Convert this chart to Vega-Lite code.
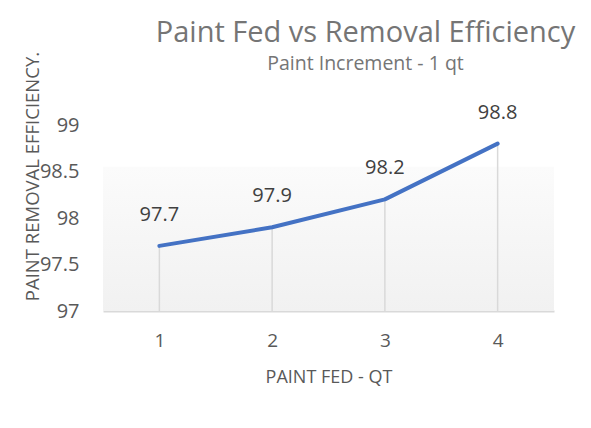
{
  "$schema": "https://vega.github.io/schema/vega-lite/v6.json",
  "width": 451,
  "height": 186,
  "autosize": {"type": "none"},
  "padding": {"left": 103, "top": 125, "right": 37, "bottom": 117},
  "background": "white",
  "config": {"view": {"stroke": null}, "font": "Open Sans"},
  "title": {
    "text": "Paint Fed vs Removal Efficiency",
    "subtitle": "Paint Increment - 1 qt",
    "anchor": "middle",
    "dx": 37,
    "offset": -22,
    "fontSize": 29,
    "fontWeight": "normal",
    "color": "#757575",
    "subtitleFontSize": 19.5,
    "subtitleColor": "#757575",
    "subtitlePadding": 7
  },
  "data": {
    "values": [
      {"qt": 1, "eff": 97.7},
      {"qt": 2, "eff": 97.9},
      {"qt": 3, "eff": 98.2},
      {"qt": 4, "eff": 98.8}
    ]
  },
  "encoding": {
    "x": {
      "field": "qt",
      "type": "ordinal",
      "scale": {"type": "point", "padding": 0.5},
      "axis": {
        "title": "PAINT FED - QT",
        "labelAngle": 0,
        "labelFontSize": 19,
        "labelColor": "#595959",
        "labelPadding": 20,
        "ticks": false,
        "domainColor": "#d9d9d9",
        "domainWidth": 2,
        "titleFontSize": 18,
        "titleFontWeight": "normal",
        "titleColor": "#595959",
        "titlePadding": 18
      }
    }
  },
  "layer": [
    {
      "data": {"values": [{}]},
      "mark": {
        "type": "rect",
        "fill": {
          "gradient": "linear",
          "x1": 0, "y1": 0, "x2": 0, "y2": 1,
          "stops": [
            {"offset": 0, "color": "#fbfbfb"},
            {"offset": 1, "color": "#f1f1f1"}
          ]
        }
      },
      "encoding": {
        "x": null,
        "y": {"datum": 98.55, "type": "quantitative", "scale": {"domain": [97, 99]}},
        "y2": {"datum": 97}
      }
    },
    {
      "mark": {"type": "rule", "color": "#d9d9d9", "strokeWidth": 1.5},
      "encoding": {
        "y": {"field": "eff", "type": "quantitative"},
        "y2": {"datum": 97}
      }
    },
    {
      "mark": {"type": "line", "color": "#4472c4", "strokeWidth": 4, "strokeCap": "round", "strokeJoin": "round"},
      "encoding": {
        "y": {
          "field": "eff",
          "type": "quantitative",
          "scale": {"domain": [97, 99]},
          "axis": {
            "title": "PAINT REMOVAL EFFICIENCY.",
            "values": [97, 97.5, 98, 98.5, 99],
            "format": "~g",
            "grid": false,
            "domain": false,
            "ticks": false,
            "labelFontSize": 20,
            "labelColor": "#595959",
            "labelPadding": 24,
            "titleFontSize": 18.5,
            "titleFontWeight": "normal",
            "titleColor": "#595959",
            "titleX": -71,
            "titleY": 51,
            "titleAngle": -90,
            "titleAlign": "center",
            "titleBaseline": "middle"
          }
        }
      }
    },
    {
      "mark": {"type": "text", "dy": -31, "fontSize": 20, "color": "#404040"},
      "encoding": {
        "y": {"field": "eff", "type": "quantitative"},
        "text": {"field": "eff", "type": "quantitative", "format": ".1f"}
      }
    }
  ]
}
